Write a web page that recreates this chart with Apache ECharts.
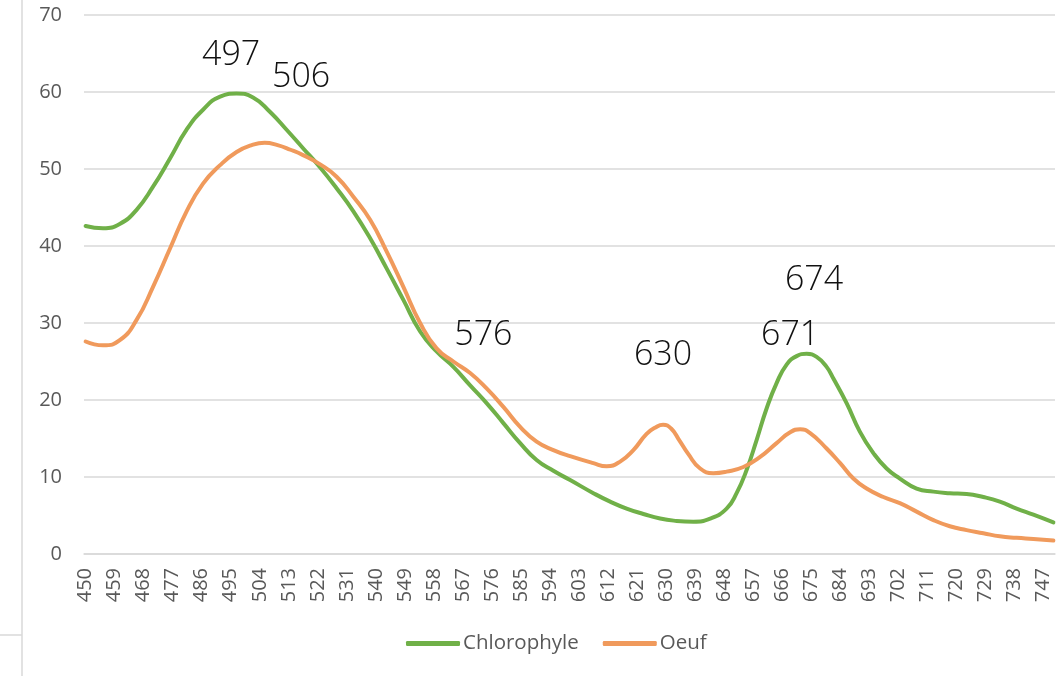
<!DOCTYPE html>
<html>
<head>
<meta charset="utf-8">
<script src="https://cdn.jsdelivr.net/npm/echarts@6/dist/echarts.min.js"></script>
<style>
    html, body { margin: 0; padding: 0; background: #fff; }
    #chart { width: 1062px; height: 676px; }
</style>
</head>
<body>
<div id="chart"></div>
<script>
//--------------------------------
// Data
//--------------------------------
// x tick labels (one every 9 nm)
const xLabels = [
    450, 459, 468, 477, 486, 495, 504, 513, 522, 531, 540, 549, 558, 567, 576, 585, 594,
    603, 612, 621, 630, 639, 648, 657, 666, 675, 684, 693, 702, 711, 720, 729, 738, 747
];
const yTicks = [0, 10, 20, 30, 40, 50, 60, 70];

// [nm, value]
const chlorophyle = [
    [450, 42.6], [455.4, 42.3], [460.7, 42.9], [465.8, 44.7], [470.9, 47.7], [476.2, 51.4],
    [481.3, 55.1], [486.4, 57.7], [491.7, 59.4], [496.8, 59.8], [501.9, 59.3], [507.2, 57.4],
    [512.3, 55.1], [517.4, 52.7], [522.7, 50.2], [527.8, 47.5], [533.0, 44.5], [538.2, 41.0],
    [543.3, 37.1], [548.5, 33.0], [553.7, 28.9], [558.8, 26.3], [564.0, 24.3], [569.2, 21.9],
    [574.3, 19.6], [579.5, 17.0], [584.7, 14.4], [589.8, 12.2], [595.0, 10.8], [600.2, 9.6],
    [607.4, 7.9], [612.6, 6.8], [617.7, 5.9], [622.9, 5.2], [628.1, 4.6], [633.2, 4.3],
    [638.4, 4.2], [643.6, 4.6], [648.7, 5.9], [651.8, 7.9], [654.9, 10.9], [658.0, 14.8],
    [661.1, 18.9], [664.2, 22.2], [667.3, 24.6], [670.4, 25.7], [673.5, 26.0], [676.6, 25.6],
    [679.7, 24.3], [681.8, 22.8], [685.9, 19.6], [690.0, 15.9], [694.2, 13.1], [698.3, 11.1],
    [702.4, 9.8], [707.6, 8.5], [712.8, 8.1], [717.9, 7.9], [723.1, 7.8], [728.3, 7.4],
    [733.4, 6.8], [738.6, 5.9], [743.8, 5.1], [750, 4.1]
];

const oeuf = [
    [450, 27.6], [455.4, 27.1], [460.7, 27.8], [465.8, 30.4], [470.9, 34.7], [476.2, 39.7],
    [481.3, 44.5], [486.4, 48.1], [491.7, 50.5], [496.8, 52.2], [501.5, 53.1], [505.5, 53.4],
    [509.5, 53.1], [513.5, 52.5], [517.4, 51.8], [522.7, 50.6], [527.8, 49.0], [533.0, 46.4],
    [538.2, 43.4], [543.3, 39.3], [548.5, 34.7], [553.7, 30.0], [558.8, 26.7], [564.0, 25.0],
    [569.2, 23.5], [574.3, 21.5], [579.5, 19.1], [584.7, 16.5], [589.8, 14.6], [595.0, 13.5],
    [600.2, 12.7], [607.4, 11.8], [611.5, 11.4], [615.7, 12.0], [619.8, 13.5], [623.9, 15.6],
    [626.5, 16.4], [629.0, 16.8], [631.5, 16.3], [634.0, 14.8], [636.8, 13.0], [640.5, 11.1],
    [644.6, 10.5], [648.7, 10.7], [653.9, 11.3], [659.1, 12.6], [664.2, 14.4], [668.4, 15.8],
    [671.5, 16.2], [674.6, 15.7], [679.7, 13.7], [683.9, 11.8], [688.0, 9.8], [692.1, 8.5],
    [697.3, 7.4], [702.4, 6.6], [707.6, 5.5], [712.8, 4.4], [717.9, 3.6], [723.1, 3.1],
    [728.3, 2.7], [733.4, 2.3], [738.6, 2.1], [743.8, 1.95], [750, 1.75]
];

// free text boxes placed on the plot: [text, x nm, y value]
const notes = [
    ['497', 495.1, 64.7],
    ['506', 516.8, 61.9],
    ['576', 573.3, 28.4],
    ['630', 629.0, 25.8],
    ['671', 668.4, 28.4],
    ['674', 675.8, 35.5]
];

//--------------------------------
// Chart
//--------------------------------
const font = '"Open Sans", "Liberation Sans", sans-serif';
const myChart = echarts.init(document.getElementById('chart'));

let options = {
    animation: false,
    textStyle: { fontFamily: font },
    grid: {
        left: 84,
        right: 7,
        top: 15,
        bottom: 122,
        containLabel: false,
        outerBoundsMode: 'none'
    },
    legend: {
        left: 406,
        top: 633,
        padding: 0,
        icon: 'roundRect',
        itemWidth: 54,
        itemHeight: 5,
        itemGap: 24,
        textStyle: { fontSize: 20.5, color: '#595959', fontFamily: font, padding: [0, 0, 0, -2] },
        data: ['Chlorophyle', 'Oeuf']
    },
    xAxis: {
        type: 'value',
        // half a step either side, like a category axis
        min: xLabels[0] - 0.5,
        max: 750.5,
        axisTick: { show: false },
        axisLine: { lineStyle: { color: '#d9d9d9', width: 1.5 } },
        axisLabel: {
            customValues: xLabels,
            rotate: 90,
            margin: 14,
            fontSize: 20,
            color: '#595959',
            fontFamily: font
        },
        splitLine: { show: false }
    },
    yAxis: {
        type: 'value',
        min: yTicks[0],
        max: yTicks[yTicks.length - 1],
        interval: 10,
        axisLine: { show: false },
        axisTick: { show: false },
        axisLabel: { margin: 22, fontSize: 20, color: '#595959', fontFamily: font },
        splitLine: { lineStyle: { color: '#d9d9d9', width: 1.5 } }
    },
    series: [
        {
            name: 'Chlorophyle',
            type: 'line',
            smooth: 0.5,
            showSymbol: false,
            lineStyle: { color: '#70b048', width: 4, cap: 'round' },
            itemStyle: { color: '#70b048' },
            data: chlorophyle,
            markPoint: {
                symbol: 'rect',
                symbolSize: 1,
                itemStyle: { color: 'rgba(0,0,0,0)' },
                label: {
                    show: true,
                    position: 'inside',
                    fontSize: 34,
                    fontWeight: 300,
                    color: '#111',
                    fontFamily: font,
                    formatter: (p) => p.name
                },
                data: notes.map(n => ({ name: n[0], coord: [n[1], n[2]] }))
            }
        },
        {
            name: 'Oeuf',
            type: 'line',
            smooth: 0.5,
            showSymbol: false,
            lineStyle: { color: '#f09a5c', width: 4, cap: 'round' },
            itemStyle: { color: '#f09a5c' },
            data: oeuf
        }
    ],
    // frame lines of the sheet on the left
    graphic: [
        { type: 'line', shape: { x1: 22, y1: 0, x2: 22, y2: 676 }, style: { stroke: '#d9d9d9', lineWidth: 1.5 } },
        { type: 'line', shape: { x1: 0, y1: 635, x2: 22, y2: 635 }, style: { stroke: '#d9d9d9', lineWidth: 1.5 } }
    ]
};
myChart.setOption(options);
</script>
</body>
</html>
